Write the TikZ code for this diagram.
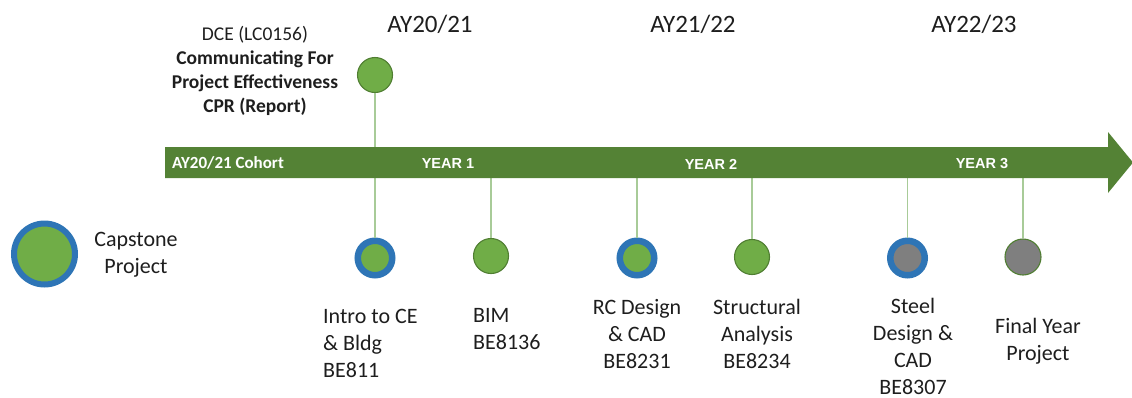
\documentclass[tikz,border=0pt]{standalone}
\usepackage{fontspec}
\setmainfont{Carlito}
\newfontfamily\arialfont{Liberation Sans}
\usetikzlibrary{calc}

\definecolor{bargreen}{HTML}{548235}
\definecolor{dotgreen}{HTML}{70AD47}
\definecolor{rimgreen}{HTML}{507E32}
\definecolor{ringblue}{HTML}{2E75B6}
\definecolor{dotgray}{HTML}{7F7F7F}
\definecolor{stemgreen}{HTML}{A8CB98}
\definecolor{ink}{HTML}{1E1E1E}

\tikzset{
  dot/.style={circle, fill=dotgreen, draw=rimgreen, line width=1.1pt,
              minimum size=35pt, inner sep=0pt},
  graydot/.style={dot, fill=dotgray, minimum size=36pt},
  ringdot/.style={circle, fill=dotgreen, draw=ringblue, line width=6.5pt,
                  minimum size=34.5pt, inner sep=0pt},
  graying/.style={ringdot, fill=dotgray},
  stem/.style={draw=stemgreen, line width=1.2pt},
  yeartitle/.style={text=ink, font=\fontsize{25}{30}\selectfont, inner sep=0pt},
  course/.style={text=ink, font=\fontsize{22}{27}\selectfont, inner sep=0pt, align=center},
  courseleft/.style={course, align=left},
  barlabel/.style={text=white, font=\arialfont\bfseries\fontsize{14.5}{17}\selectfont, inner sep=0pt},
}

\begin{document}
\begin{tikzpicture}[x=1pt, y=-1pt]
\useasboundingbox (0,0) rectangle (1132,397);

% timeline edges used by the stems
\coordinate (bartop) at (0,147);
\coordinate (barbot) at (0,178);

% milestone dots
\node[dot]    (dce)    at (375,75)  {};
\node[ringdot] (intro) at (375,258) {};
\node[dot]    (bim)    at (491,256) {};
\node[ringdot] (rc)    at (637,258) {};
\node[dot]    (struct) at (752,257) {};
\node[graying] (steel) at (907.5,258) {};
\node[graydot] (fyp)   at (1023,257) {};

% stems joining the dots to the timeline
\draw[stem] (dce.south)    -- (dce |- bartop);
\draw[stem] (intro.north)  -- (intro |- barbot);
\draw[stem] (bim.north)    -- (bim |- barbot);
\draw[stem] (rc.north)     -- (rc |- barbot);
\draw[stem] (struct.north) -- (struct |- barbot);
\draw[stem] (steel.north)  -- (steel |- barbot);
\draw[stem] (fyp.north)    -- (fyp |- barbot);

% timeline arrow
\fill[bargreen] (165,147) -- (1108,147) -- (1108,132) -- (1133,162.5)
  -- (1108,193) -- (1108,178) -- (165,178) -- cycle;

\node[barlabel, anchor=west, font=\bfseries\fontsize{17}{20}\selectfont] (cohort) at (172,163) {AY20/21 Cohort};
\node[barlabel] (y1) at (448,164) {YEAR 1};
\node[barlabel] (y2) at (711,164) {YEAR 2};
\node[barlabel] (y3) at (982,164) {YEAR 3};

% academic year headings
\node[yeartitle] (ay1) at (430,24) {AY20/21};
\node[yeartitle] (ay2) at (693,24) {AY21/22};
\node[yeartitle] (ay3) at (974,24) {AY22/23};

% communication module
\node[text=ink, inner sep=0pt, align=center, font=\fontsize{19.5}{24}\selectfont] (dcetext) at (255,71)
  {DCE (LC0156)\\\textbf{Communicating For}\\\textbf{Project Effectiveness}\\\textbf{CPR (Report)}};

% course labels
\node[courseleft, anchor=west] (introtext) at (323,343) {Intro to CE\\\& Bldg\\BE811};
\node[courseleft, anchor=west] (bimtext) at (473,329) {BIM\\BE8136};
\node[course] (rctext) at (637,334) {RC Design\\\& CAD\\BE8231};
\node[course] (structtext) at (757,334) {Structural\\Analysis\\BE8234};
\node[course] (steeltext) at (913,346) {Steel\\Design \&\\CAD\\BE8307};
\node[course] (fyptext) at (1038,341) {Final Year\\Project};

% legend
\node[ringdot, line width=6pt, minimum size=61pt] (legend) at (44.5,254) {};
\node[course] (legendtext) at (136,255) {Capstone\\Project};
\end{tikzpicture}
\end{document}
